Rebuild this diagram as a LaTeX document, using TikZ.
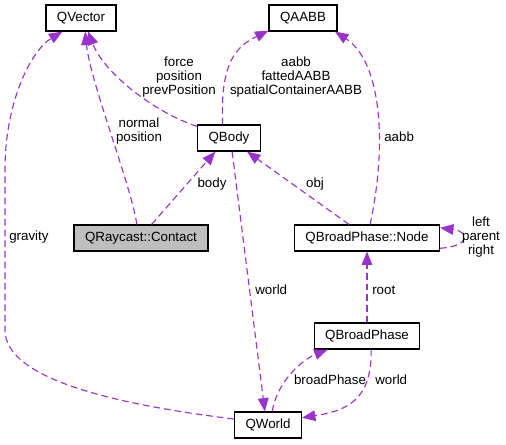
\documentclass[tikz,border=0pt]{standalone}
\usepackage{fontspec}
\setmainfont{Liberation Sans}
\usepackage{xcolor}
\usepackage{tikz}
\usetikzlibrary{arrows.meta,positioning}

\definecolor{orchid}{HTML}{9A32CD}
\definecolor{boxgray}{HTML}{BFBFBF}

\begin{document}
\begin{tikzpicture}[x=0.75pt, y=-0.75pt, >={Triangle[length=10pt,width=8pt]}, font=\fontsize{10}{10.5}\selectfont]
\tikzstyle{cls}=[draw,line width=0.9pt,minimum height=19.5pt,inner xsep=8.25pt,inner ysep=0pt]
\tikzstyle{dep}=[->,draw=orchid,line width=0.85pt,dash pattern=on 5pt off 3pt]
\tikzstyle{lbl}=[align=center,inner sep=0pt]
\useasboundingbox (0,0) rectangle (506,444);
% classes
\node[cls] (vec) at (81,18) {QVector};
\node[cls] (aabb) at (303,18) {QAABB};
\node[cls] (body) at (229,138) {QBody};
\node[cls,fill=boxgray] (contact) at (141,238) {QRaycast::Contact};
\node[cls] (node) at (367,238) {QBroadPhase::Node};
\node[cls] (bp) at (367,336) {QBroadPhase};
\node[cls] (world) at (268,425) {QWorld};
% members
\draw[dep] (body.160) .. controls +(-45,-15) and +(15,40) .. (vec.-62);
\draw[dep] (contact.107) .. controls +(-6,-40) and +(5,50) .. (vec.-73);
\draw[dep] (contact.52) -- (body.-135);
\draw[dep] (world.170) .. controls (120,405) and (5,380) .. (5,330) -- (5,170)
  .. controls (5,100) and (32,50) .. (vec.-144);
\draw[dep] (body.115) .. controls +(-3,-65) and +(-30,15) .. (aabb.-160);
\draw[dep] (node.77) .. controls +(18,-85) and +(45,29) .. (aabb.-23);
\draw[dep] (node.143) -- (body.-37);
\draw[dep] (node.-8) .. controls +(30,-2) and +(30,4) .. (node.8);
\draw[dep] (body.-77) -- (world.103);
\draw[dep] (bp.north) -- (node.south);
\draw[dep] (world.73) .. controls +(5,-30) and +(-25,10) .. (bp.-161);
\draw[dep] (bp.-73) .. controls +(1,51) and +(44,-7) .. (world.12);
% labels
\node[lbl] (lforce) at (179,77) {force\\position\\prevPosition};
\node[lbl] (lnormal) at (139,131) {normal\\position};
\node[lbl] (lbody) at (212,184) {body};
\node[lbl,anchor=west] (lgrav) at (9,237) {gravity};
\node[lbl] (laabb) at (296,77) {aabb\\fattedAABB\\spatialContainerAABB};
\node[lbl,anchor=west] (laabb2) at (384,137) {aabb};
\node[lbl] (lobj) at (315,184) {obj};
\node[lbl] (lself) at (481,237) {left\\parent\\right};
\node[lbl,anchor=west] (lworld) at (255,290) {world};
\node[lbl,anchor=west] (lroot) at (372,290) {root};
\node[lbl] (lbp) at (330,380) {broadPhase};
\node[lbl,anchor=west] (lworld2) at (375,380) {world};
\end{tikzpicture}
\end{document}
